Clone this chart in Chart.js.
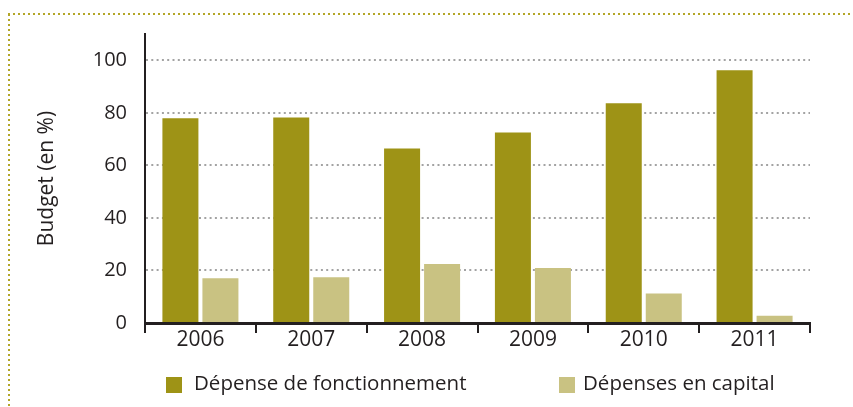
<!DOCTYPE html>
<html>
<head>
<meta charset="utf-8">
<script src="https://cdn.jsdelivr.net/npm/chart.js@4"></script>
<style>
html,body{margin:0;padding:0;background:#fff;}
#wrap{width:853px;height:407px;position:relative;}
</style>
</head>
<body>
<div id="wrap"><canvas id="c" width="853" height="407"></canvas></div>
<script>
const years = ['2006', '2007', '2008', '2009', '2010', '2011'];
const fonctionnement = [77.9, 78.2, 66.4, 72.5, 83.6, 96.2];
const capital = [17.0, 17.4, 22.5, 20.9, 11.2, 2.8];
const yTicks = [0, 20, 40, 60, 80, 100];
const seriesNames = ['Dépense de fonctionnement', 'Dépenses en capital'];
const seriesColors = ['#9e9316', '#c9c282'];

const FONT = "'Open Sans', sans-serif";
const TXT = '#231f20';

const framePlugin = {
  id: 'frame',
  beforeDraw(chart) {
    const ctx = chart.ctx;
    ctx.save();
    ctx.strokeStyle = '#b3a627';
    ctx.lineWidth = 2;
    ctx.setLineDash([2, 3]);
    ctx.beginPath();
    ctx.moveTo(8, 14); ctx.lineTo(853, 14);
    ctx.moveTo(9, 14); ctx.lineTo(9, 407);
    ctx.stroke();
    ctx.restore();
  }
};

const legendPlugin = {
  id: 'customLegend',
  afterDraw(chart) {
    const ctx = chart.ctx;
    const pos = [{box: 166, text: 194}, {box: 559, text: 583}];
    ctx.save();
    ctx.font = "20.5px " + FONT;
    ctx.textBaseline = 'middle';
    ctx.textAlign = 'left';
    chart.data.datasets.forEach((ds, i) => {
      ctx.fillStyle = ds.backgroundColor;
      ctx.fillRect(pos[i].box, 377, 16, 16);
      ctx.fillStyle = TXT;
      ctx.fillText(ds.label, pos[i].text, 384);
    });
    ctx.restore();
  }
};

new Chart(document.getElementById('c'), {
  type: 'bar',
  data: {
    labels: years,
    datasets: [
      {label: seriesNames[0], data: fonctionnement, backgroundColor: seriesColors[0]},
      {label: seriesNames[1], data: capital, backgroundColor: seriesColors[1]}
    ]
  },
  options: {
    responsive: false,
    animation: false,
    devicePixelRatio: 1,
    categoryPercentage: 0.722,
    barPercentage: 0.9,
    layout: {padding: {left: 30, right: 43, top: 34, bottom: 54}},
    plugins: {legend: {display: false}, tooltip: {enabled: false}},
    scales: {
      x: {
        afterFit(s) { s.height = 30; },
        border: {display: true, color: TXT, width: 3},
        grid: {
          display: true, drawOnChartArea: false, drawTicks: true, tickLength: 10,
          color: (c) => c.index === years.length ? 'rgba(0,0,0,0)' : TXT, lineWidth: 2
        },
        ticks: {color: TXT, font: {family: FONT, size: 21}, padding: -6}
      },
      y: {
        min: 0, max: 110,
        afterFit(s) { s.width = 115; },
        afterBuildTicks(s) { s.ticks = yTicks.map(v => ({value: v})); },
        grid: {
          display: true, drawTicks: false,
          color: (c) => c.tick && c.tick.value === 0 ? 'rgba(0,0,0,0)' : '#a3a3a3',
          lineWidth: 2
        },
        border: {display: true, color: TXT, width: 2, dash: [2, 3.3]},
        ticks: {color: TXT, font: {family: FONT, size: 20}, padding: 18},
        title: {display: true, text: 'Budget (en %)', color: TXT, font: {family: FONT, size: 21}, padding: {top: 4, bottom: 0}}
      }
    }
  },
  plugins: [framePlugin, legendPlugin]
});
</script>
</body>
</html>
